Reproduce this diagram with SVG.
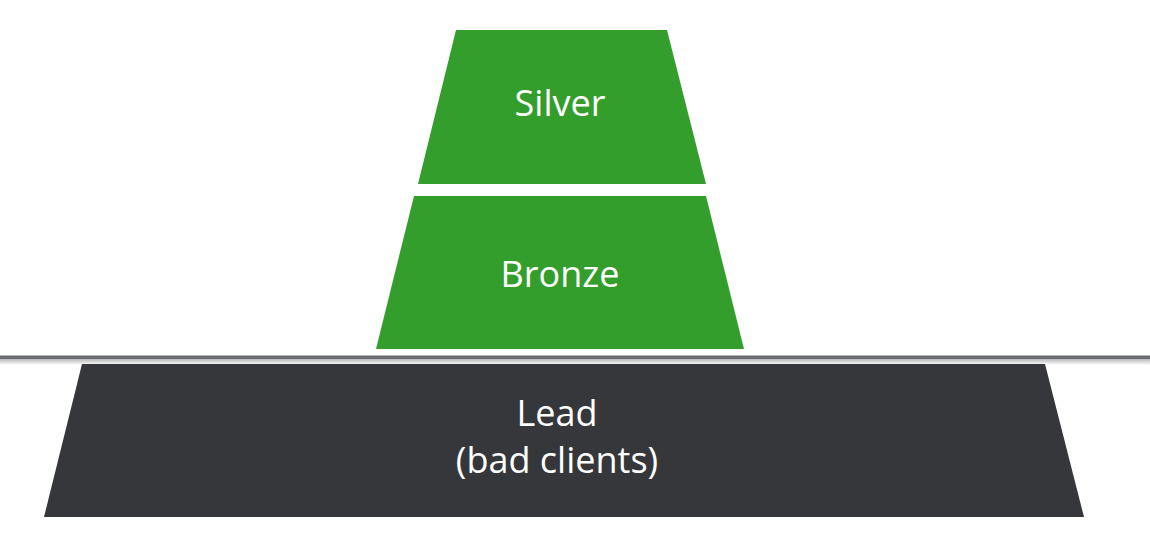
<svg xmlns="http://www.w3.org/2000/svg" width="1150" height="536" viewBox="0 0 1150 536">
<style>
.green{fill:#349e2d}
.dark{fill:#36373b}
.lbl{font-family:"Open Sans","Liberation Sans",sans-serif;font-size:36px;fill:#ffffff;text-anchor:middle}
</style>
<defs>
<linearGradient id="shade" x1="0" y1="0" x2="0" y2="1">
<stop offset="0" stop-color="#b8b8bb"/>
<stop offset="1" stop-color="#ffffff"/>
</linearGradient>
</defs>
<rect width="1150" height="536" fill="#ffffff"/>
<g id="ground">
<rect x="0" y="355.5" width="1150" height="3.5" fill="#6b6c71"/>
<rect x="0" y="359" width="1150" height="6" fill="url(#shade)"/>
</g>
<g id="silver">
<polygon class="green" points="456,30 667,30 706,184 418,184"/>
<text class="lbl" x="560" y="116">Silver</text>
</g>
<g id="bronze">
<polygon class="green" points="414,196 706,196 744,349 376,349"/>
<text class="lbl" x="560" y="287">Bronze</text>
</g>
<g id="lead">
<polygon class="dark" points="82,364 1045,364 1084,517 44,517"/>
<text class="lbl" x="557" y="426">Lead</text>
<text class="lbl" x="557" y="473">(bad clients)</text>
</g>
<g id="connectors"/>
</svg>
